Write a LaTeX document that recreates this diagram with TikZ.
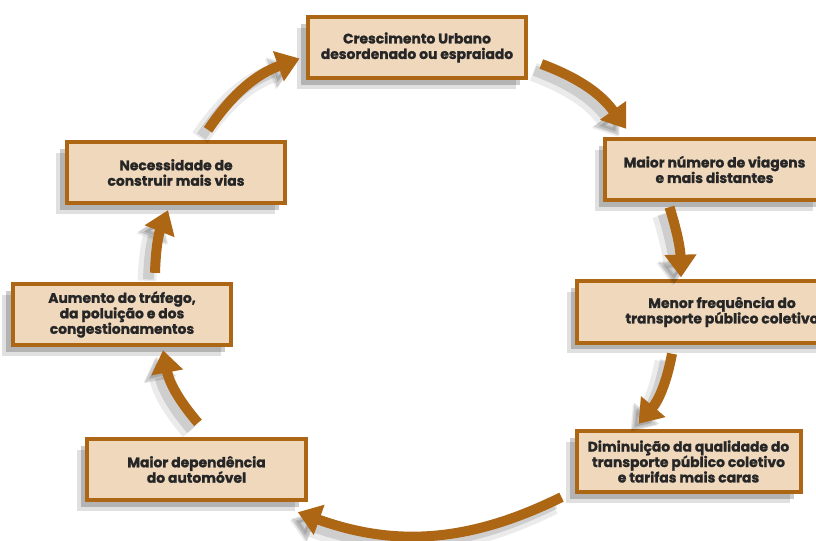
\documentclass[tikz,border=0pt]{standalone}
\usepackage{fontspec}
\setmainfont{Poppins}[BoldFeatures={FakeBold=1.3}]
\usetikzlibrary{arrows.meta,shadows}

\definecolor{boxfill}{HTML}{F0D8BD}
\definecolor{boxline}{HTML}{AC6614}
\definecolor{arrowcol}{HTML}{AC6614}
\definecolor{txtcol}{HTML}{262626}

\begin{document}
\begin{tikzpicture}[
  x=0.75pt, y=-0.75pt,
  etapa/.style={rectangle, draw=boxline, fill=boxfill, line width=3pt, minimum width=164pt, minimum height=46pt, align=center, text=txtcol, font=\fontsize{10.4}{11.6}\selectfont\bfseries,
    drop shadow={shadow xshift=-8pt, shadow yshift=-8pt, fill=black, opacity=0.12},
    drop shadow={shadow xshift=-5pt, shadow yshift=-5pt, fill=black, opacity=0.2}},
  fluxo/.style={-{Triangle[length=17pt, width=23pt]}, draw=arrowcol, line width=7.5pt,
    preaction={draw=black, opacity=0.08, line width=14pt, transform canvas={shift={(-6pt,-6pt)}}},
    preaction={draw=black, opacity=0.12, line width=8pt, transform canvas={shift={(-5pt,-5pt)}}}}
]
\useasboundingbox (0,0) rectangle (816,540);

% Boxes of the cycle
\node[etapa] (Cresc) at (417,47.5) {Crescimento Urbano\\desordenado ou espraiado};
\node[etapa] (Viagens) at (714.5,169.5) {Maior número de viagens\\e mais distantes};
\node[etapa, minimum width=217pt] (Frequencia) at (722,312) {Menor frequência do\\transporte público coletivo};
\node[etapa, minimum width=168pt] (Qualidade) at (688.5,461.5) {Diminuição da qualidade do\\transporte público coletivo\\e tarifas mais caras};
\node[etapa] (Dependencia) at (196.5,469.5) {Maior dependência\\do automóvel};
\node[etapa] (Trafego) at (122,314.5) {Aumento do tráfego,\\da poluição e dos\\congestionamentos};
\node[etapa] (Vias) at (176,172.5) {Necessidade de\\construir mais vias};

% Arrows (clockwise)
\draw[fluxo] ([shift={(13,16.5)}]Cresc.east) to[bend left=17] ([shift={(23,-8)}]Viagens.north west);
\draw[fluxo] ([shift={(-45,5)}]Viagens.south) to[bend left=8] ([shift={(-41,-2)}]Frequencia.north);
\draw[fluxo] ([shift={(-50,9)}]Frequencia.south) to[bend left=15] ([shift={(-50,-5)}]Qualidade.north);
\draw[fluxo] ([shift={(-13,3)}]Qualidade.south west) to[bend left=23] ([shift={(-10,10)}]Dependencia.south east);
\draw[fluxo] ([shift={(1.5,-14)}]Dependencia.north) to[bend left=15] ([shift={(41,3)}]Trafego.south);
\draw[fluxo] ([shift={(33,-9)}]Trafego.north) to[bend left=10] ([shift={(-8,5)}]Vias.south);
\draw[fluxo] ([shift={(32,-10)}]Vias.north) to[bend left=18] ([shift={(-6,11)}]Cresc.west);

\end{tikzpicture}
\end{document}
